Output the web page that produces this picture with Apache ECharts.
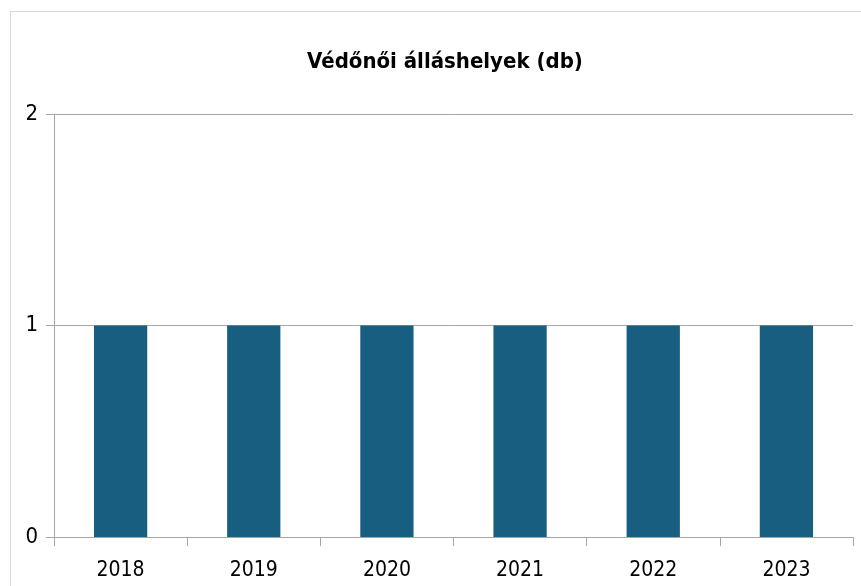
<!DOCTYPE html>
<html>
<head>
<meta charset="utf-8">
<script src="https://cdn.jsdelivr.net/npm/echarts@6/dist/echarts.min.js"></script>
<style>
  html,body{margin:0;padding:0;background:#fff;}
  #frame{position:absolute;left:10px;top:11px;width:900px;height:620px;border:1px solid #d9d9d9;box-sizing:border-box;}
  #chart{position:absolute;left:0;top:0;width:861px;height:586px;}
</style>
</head>
<body>
<div id="frame"></div>
<div id="chart"></div>
<script>
  // adatok
  let years = ['2018','2019','2020','2021','2022','2023'];
  let values = [1,1,1,1,1,1];
  let titleText = 'Védőnői álláshelyek (db)';

  let fontName = '"DejaVu Sans Condensed","Open Sans",sans-serif';
  let myChart = echarts.init(document.getElementById('chart'));
  let option = {
    animation:false,
    title:{
      text:titleText,
      left:440,
      textAlign:'center',
      top:46,
      textStyle:{color:'#000',fontFamily:fontName,fontWeight:'bold',fontSize:22}
    },
    grid:{left:54,right:8,top:114,bottom:49},
    xAxis:{
      type:'category',
      data:years,
      axisLine:{lineStyle:{color:'#a6a6a6',width:1}},
      axisTick:{show:true,length:9,lineStyle:{color:'#a6a6a6'}},
      axisLabel:{color:'#000',fontFamily:fontName,fontSize:21,margin:23}
    },
    yAxis:{
      type:'value',
      min:0,max:2,interval:1,
      axisLine:{show:true,lineStyle:{color:'#a6a6a6'}},
      axisTick:{show:true,length:8,lineStyle:{color:'#a6a6a6'}},
      axisLabel:{color:'#000',fontFamily:fontName,fontSize:22,margin:16},
      splitLine:{lineStyle:{color:'#a6a6a6'}}
    },
    series:[{
      type:'bar',
      data:values,
      barWidth:'40%',
      itemStyle:{color:'#175e80'}
    }]
  };
  myChart.setOption(option);
</script>
</body>
</html>
